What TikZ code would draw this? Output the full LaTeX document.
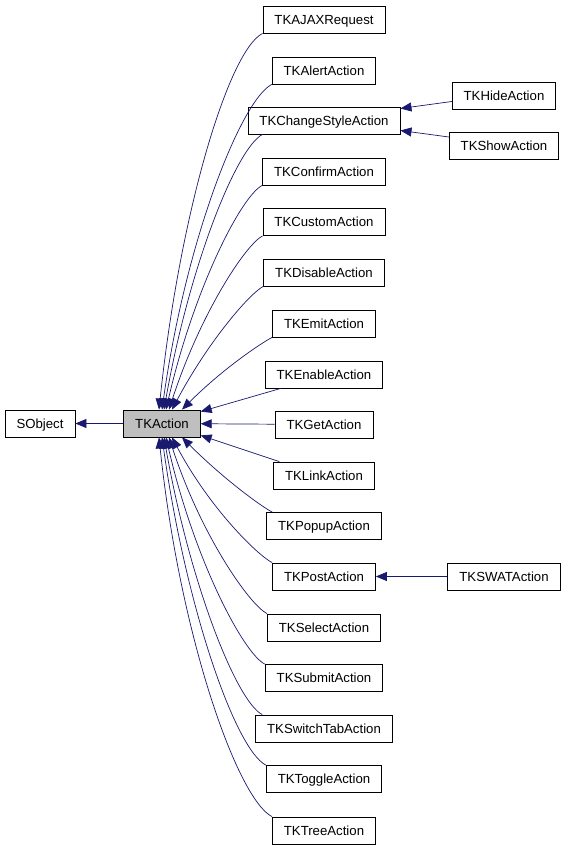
\documentclass[tikz,border=0pt]{standalone}
\usepackage{fontspec}
\setmainfont{Liberation Sans}
\usepackage{tikz}
\usetikzlibrary{calc, positioning, arrows.meta}
\definecolor{edgeblue}{HTML}{191970}
\definecolor{boxgray}{HTML}{BFBFBF}

\begin{document}
\begin{tikzpicture}[x=1pt,y=1pt,
    cls/.style={draw=black,line width=0.8pt,minimum height=27,inner xsep=11.5,inner ysep=0,text height=9.4,text depth=0,font=\fontsize{13.2}{15}\selectfont},
    inh/.style={draw=edgeblue,line width=0.7pt,-{Triangle[length=11,width=9]}},
    up/.style={out=207,out looseness=0.25,in looseness=1.3},
    down/.style={out=153,out looseness=0.25,in looseness=1.3}]
			\useasboundingbox (0,0) rectangle (565,-848);

			\node[cls] (SObject) at (40,-423.5) {SObject};
			\node[cls,fill=boxgray] (TKAction) at (162,-423.5) {TKAction};

			\node[cls] (TKAJAXRequest) at (324,-19.5) {TKAJAXRequest};
			\node[cls] (TKAlertAction) at (324,-70.5) {TKAlertAction};
			\node[cls] (TKChangeStyleAction) at (324,-120.5) {TKChangeStyleAction};
			\node[cls] (TKConfirmAction) at (324,-171.5) {TKConfirmAction};
			\node[cls] (TKCustomAction) at (324,-222) {TKCustomAction};
			\node[cls] (TKDisableAction) at (324,-272.5) {TKDisableAction};
			\node[cls] (TKEmitAction) at (324,-323.5) {TKEmitAction};
			\node[cls] (TKEnableAction) at (324,-374.5) {TKEnableAction};
			\node[cls] (TKGetAction) at (324,-424.5) {TKGetAction};
			\node[cls] (TKLinkAction) at (324,-475.5) {TKLinkAction};
			\node[cls] (TKPopupAction) at (324,-526) {TKPopupAction};
			\node[cls] (TKPostAction) at (324,-576.5) {TKPostAction};
			\node[cls] (TKSelectAction) at (324,-627.5) {TKSelectAction};
			\node[cls] (TKSubmitAction) at (324,-678) {TKSubmitAction};
			\node[cls] (TKSwitchTabAction) at (324,-728.5) {TKSwitchTabAction};
			\node[cls] (TKToggleAction) at (324,-779) {TKToggleAction};
			\node[cls] (TKTreeAction) at (324,-830.5) {TKTreeAction};

			\node[cls] (TKHideAction) at (504,-95.5) {TKHideAction};
			\node[cls] (TKShowAction) at (504,-146) {TKShowAction};
			\node[cls] (TKSWATAction) at (504,-576.5) {TKSWATAction};

			\path
			(TKAction) edge[inh] (SObject)
			(TKAJAXRequest.south west) edge[inh,up,in=84] ([xshift=-3]TKAction.north)
			(TKAlertAction.south west) edge[inh,up,in=82] ([xshift=0]TKAction.north)
			([xshift=15]TKChangeStyleAction.south west) edge[inh,up,in=80] ([xshift=2]TKAction.north)
			(TKConfirmAction.south west) edge[inh,up,in=77] ([xshift=4]TKAction.north)
			(TKCustomAction.south west) edge[inh,up,in=72] ([xshift=7]TKAction.north)
			(TKDisableAction.south west) edge[inh,up,in=62] ([xshift=10]TKAction.north)
			(TKEmitAction.south west) edge[inh,up,in=45] ([xshift=20]TKAction.north)
			([xshift=16]TKEnableAction.south west) edge[inh] ([yshift=-2]TKAction.north east)
			(TKGetAction) edge[inh] (TKAction)
			([xshift=6]TKLinkAction.north west) edge[inh] ([yshift=2]TKAction.south east)
			([xshift=6]TKPopupAction.north west) edge[inh,down,in=-45] ([xshift=20]TKAction.south)
			(TKPostAction.north west) edge[inh,down,in=-62] ([xshift=10]TKAction.south)
			(TKSelectAction.north west) edge[inh,down,in=-72] ([xshift=7]TKAction.south)
			(TKSubmitAction.north west) edge[inh,down,in=-77] ([xshift=4]TKAction.south)
			([xshift=7]TKSwitchTabAction.north west) edge[inh,down,in=-80] ([xshift=2]TKAction.south)
			(TKToggleAction.north west) edge[inh,down,in=-82] ([xshift=0]TKAction.south)
			(TKTreeAction.north west) edge[inh,down,in=-84] ([xshift=-3]TKAction.south)
			([yshift=-6]TKHideAction.west) edge[inh] ([yshift=12]TKChangeStyleAction.east)
			([yshift=9]TKShowAction.west) edge[inh] ([yshift=-10]TKChangeStyleAction.east)
			(TKSWATAction) edge[inh] (TKPostAction)
			;
		\end{tikzpicture}
\end{document}
